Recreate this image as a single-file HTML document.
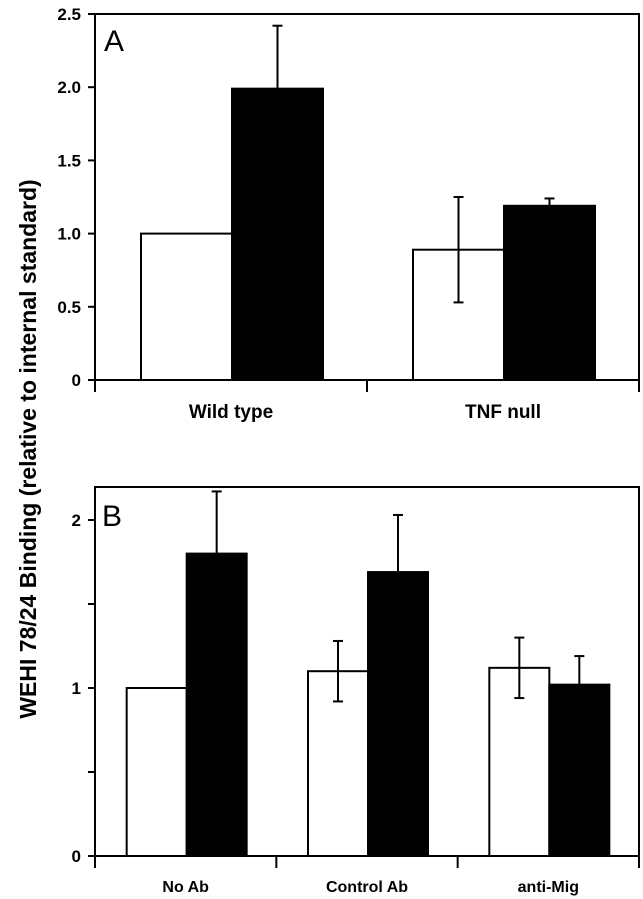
<!DOCTYPE html>
<html><head><meta charset="utf-8"><style>
html,body{margin:0;padding:0;background:#fff;}
svg{display:block;font-family:"Liberation Sans",Arial,sans-serif;}
</style></head><body>
<svg id="chart" width="643" height="899" viewBox="0 0 643 899" xmlns="http://www.w3.org/2000/svg">
<text transform="translate(36,449) rotate(-90)" text-anchor="middle" font-size="23" font-weight="bold">WEHI 78/24 Binding  (relative to internal standard)</text>
</svg>
<script>
const catsA = ["Wild type","TNF null"];
const whiteA = [1.0, 0.89];
const whiteErrA = [null, 0.36];
const blackA = [1.99, 1.19];
const blackErrA = [0.43, 0.05];
const ticksA = ["0","0.5","1.0","1.5","2.0","2.5"];
const tickValsA = [0,0.5,1,1.5,2,2.5];

const catsB = ["No Ab","Control Ab","anti-Mig"];
const whiteB = [1.0, 1.10, 1.12];
const whiteErrB = [null, 0.18, 0.18];
const blackB = [1.80, 1.69, 1.02];
const blackErrB = [0.37, 0.34, 0.17];
const ticksB = ["0","","1","","2"];
const tickValsB = [0,0.5,1,1.5,2];

const NS = "http://www.w3.org/2000/svg";
const svg = document.getElementById('chart');
function mk(tag, attrs, parent){const e=document.createElementNS(NS,tag);for(const k in attrs)e.setAttribute(k,attrs[k]);(parent||svg).appendChild(e);return e;}

function panel(cfg){
  const g = mk('g',{});
  
  
  const y = v => cfg.y0 - v*(cfg.y0-cfg.yTop)/cfg.yMaxV;
  const L=95, R=639;
  const frame = mk('rect',{x:L,y:cfg.top,width:R-L,height:cfg.y0-cfg.top,fill:'none',stroke:'#000','stroke-width':2},g);
  
  
  const n = cfg.cats.length, gw=(R-L)/n;
  for(let i=0;i<n;i++){
    const cx = L + gw*(i+0.5);
    const bw = cfg.bw;
    const wx = cx - bw - cfg.off, bx = cx - cfg.off;
    const wb = mk('rect',{x:wx,y:y(cfg.white[i]),width:bw,height:cfg.y0-y(cfg.white[i]),fill:'#fff',stroke:'#000','stroke-width':2},g);
    
    
    const bb = mk('rect',{x:bx,y:y(cfg.black[i]),width:bw,height:cfg.y0-y(cfg.black[i]),fill:'#000',stroke:'#000','stroke-width':2},g);
    
    
    const errs=[[wx+bw/2,cfg.white[i],cfg.whiteErr[i],true],[bx+bw/2,cfg.black[i],cfg.blackErr[i],false]];
    errs.forEach(([ex,v,e,both])=>{
      if(e==null) return;
      const y1=y(v+e), y2= both? y(v-e): y(v);
      const eg = mk('g',{stroke:'#000','stroke-width':2},g);
      
      
      mk('line',{x1:ex,x2:ex,y1:y1,y2:y2},eg);
      mk('line',{x1:ex-5,x2:ex+5,y1:y1,y2:y1},eg);
      if(both) mk('line',{x1:ex-5,x2:ex+5,y1:y2,y2:y2},eg);
    });
    const t = mk('text',{x:cx,y:cfg.labelY,'text-anchor':'middle','font-size':cfg.labelSize,'font-weight':'bold'},g);
    t.textContent = cfg.cats[i];
    
    
  }
  for(let i=0;i<=n;i++){
    const tx=L+gw*i;
    const tk = mk('line',{x1:tx,x2:tx,y1:cfg.y0,y2:cfg.y0+12,stroke:'#000','stroke-width':2},g);
    
    
  }
  cfg.tickVals.forEach((v,i)=>{
    const ty=y(v);
    const tk = mk('line',{x1:L-7,x2:L,y1:ty,y2:ty,stroke:'#000','stroke-width':2},g);
    
    
    if(cfg.ticks[i]){
      const t = mk('text',{x:L-14,y:ty+6,'text-anchor':'end','font-size':17,'font-weight':'bold'},g);
      t.textContent = cfg.ticks[i];
      
      
    }
  });
  const pl = mk('text',{x:cfg.letterX,y:cfg.letterY,'font-size':30},g);
  pl.textContent = cfg.letter;
  
  
}
panel({name:'panel-a',cats:catsA,white:whiteA,whiteErr:whiteErrA,black:blackA,blackErr:blackErrA,ticks:ticksA,tickVals:tickValsA,
  top:14,y0:380,yTop:14,yMaxV:2.5,bw:91,off:-1,labelY:418,labelSize:19,letter:'A',letterX:104,letterY:51});
panel({name:'panel-b',cats:catsB,white:whiteB,whiteErr:whiteErrB,black:blackB,blackErr:blackErrB,ticks:ticksB,tickVals:tickValsB,
  top:487,y0:856,yTop:520,yMaxV:2,bw:60,off:-1,labelY:892,labelSize:16,letter:'B',letterX:102,letterY:526});
</script>
</body></html>
